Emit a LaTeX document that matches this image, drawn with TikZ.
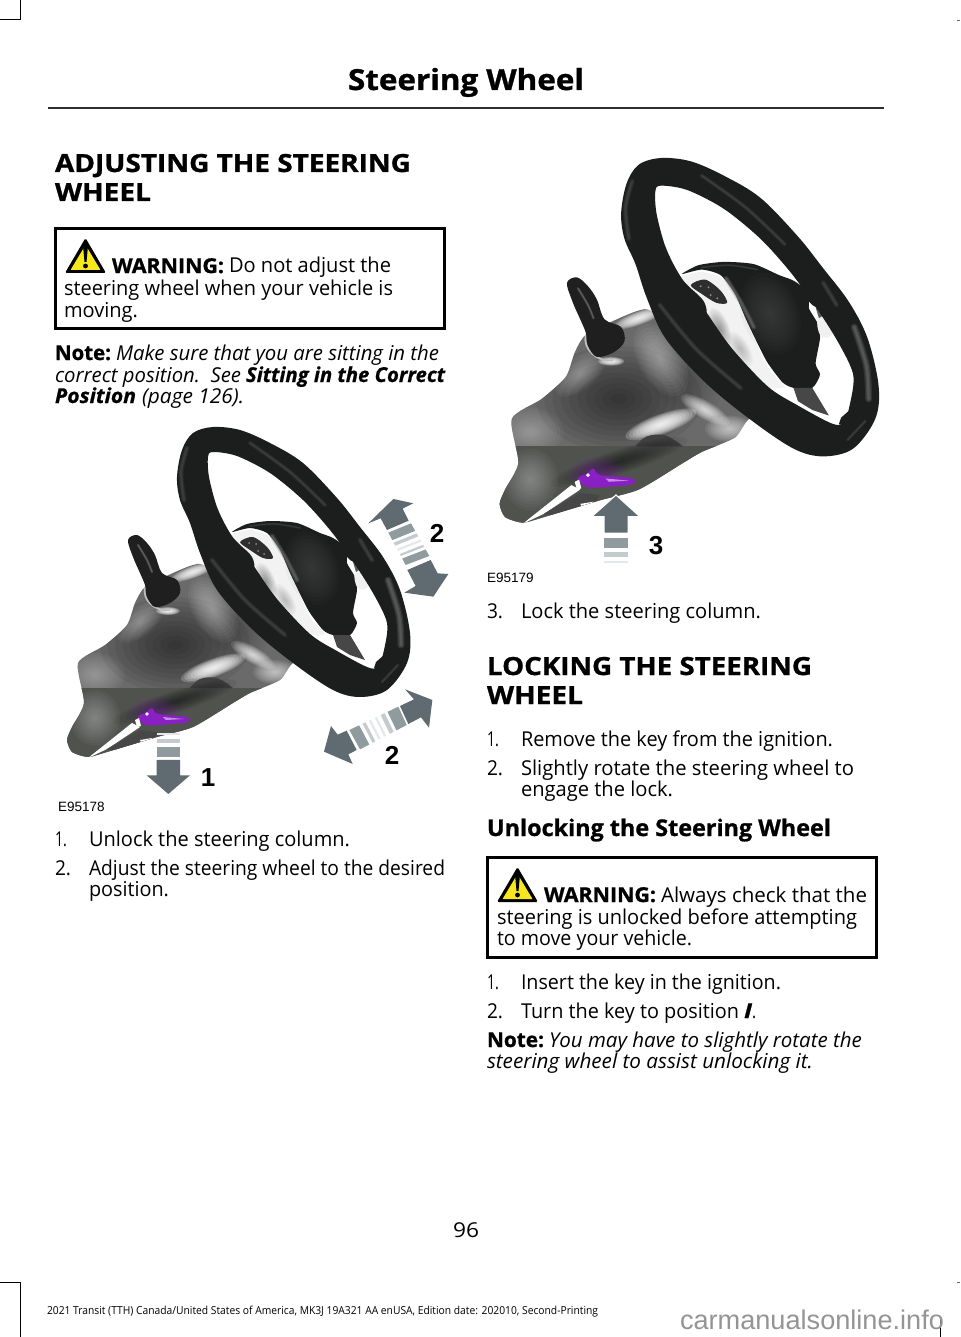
\documentclass[tikz,border=0pt]{standalone}
\usepackage{fontspec}
\usepackage{graphicx}
\usetikzlibrary{calc}
\setmainfont{Open Sans}
\newfontfamily\heavy[BoldFeatures={FakeBold=1.0},BoldItalicFeatures={FakeBold=0.8}]{Open Sans}
\newfontfamily\lib{Liberation Sans}
\definecolor{arrowdark}{HTML}{5F6B70}
\definecolor{arrowmid}{HTML}{8F9B9F}
\definecolor{arrowlight}{HTML}{C3CBCE}
\definecolor{arrowpale}{HTML}{E4E8EA}
\definecolor{rimdark}{HTML}{1C1E1D}
\definecolor{rimlight}{HTML}{4A4D4C}
\definecolor{bodygray}{HTML}{6A6A6A}
\definecolor{shroud}{HTML}{50524E}
\definecolor{lever}{HTML}{8A1FC4}
\definecolor{warnyellow}{HTML}{F8E71C}
\newcounter{tlc}
% fitted line of text: x, y (baseline), width, font+text
\newcommand{\tl}[4]{\stepcounter{tlc}\node[anchor=base west,inner sep=0pt,outer sep=0pt] (t\thetlc) at (#1,#2) {\resizebox{#3pt}{\height}{#4}};}
\newcommand{\bodyf}{\fontsize{20.5}{22}\selectfont}
\newcommand{\headf}{\fontsize{25}{28}\selectfont\heavy\bfseries}
% soft blob: colour, strength, x, y, rx, ry, angle
\newcommand{\blob}[7]{\begin{scope}[shift={(#3,#4)},rotate=#7]
 \pgfmathsetmacro{\bop}{#2*0.12}
 \foreach \k in {.1,.2,...,1.01}{\fill[#1,opacity=\bop] (0,0) ellipse[x radius=\k*#5,y radius=\k*#6];}
 \end{scope}}
\newcommand{\softline}[3]{%
 \draw[#1,opacity=.25,line width=#2,line cap=round,line join=round] plot[smooth] coordinates {#3};
 \draw[#1,opacity=.3,line width=.66*#2,line cap=round,line join=round] plot[smooth] coordinates {#3};
 \draw[#1,opacity=.35,line width=.33*#2,line cap=round,line join=round] plot[smooth] coordinates {#3};}
\newcommand{\illus}{%
 % column body
 \begin{scope}
 \path[clip] plot[smooth cycle,tension=.4] coordinates {(67,740)(72,727)(84,703)(78,663)(105,645)(127,625)(135,603)(145,587)(173,573)(193,565)(205,566)(250,600)(320,655)(293,663)(280,680)(250,693)(233,703)(193,727)(157,737)(107,752)(88,757)(72,752)};
 \fill[bodygray] (60,550) rectangle (330,770);
 \blob{black}{.5}{175}{645}{75}{48}{0}
 \blob{black}{.2}{235}{625}{30}{40}{30}
 \blob{white}{.3}{95}{675}{30}{22}{0}
 \blob{white}{.35}{140}{622}{28}{14}{40}
 \blob{white}{1.7}{213}{668}{34}{9}{20}
 \blob{white}{1}{253}{655}{25}{8}{-30}
 \blob{white}{.7}{275}{672}{22}{12}{0}
 \blob{white}{.4}{213}{610}{20}{36}{30}
 \blob{white}{1.5}{193}{572}{24}{6}{20}
 \blob{white}{1.7}{168}{611}{12}{4}{0}
 \fill[shroud] (60,688) rectangle (330,770);
 \fill[black!75] plot[smooth,tension=.6] coordinates {(190,688)(200,679)(217,678)(233,688)} -- cycle;
 \blob{black}{.5}{175}{702}{65}{11}{18}
 \blob{white}{.3}{95}{718}{25}{28}{0}
 \blob{lever}{.4}{155}{712}{26}{14}{0}
 \fill[white] (88,758) -- (132,723) -- (140,727) -- (107,749) -- cycle;
 \fill[black!72] (107,749) -- (140,730) -- (157,732) -- (153,743) -- (127,752) -- cycle;
 \fill[white] (140,740) -- (152,738) -- (150,743) -- (142,744) -- cycle;
 \end{scope}
 % collar and stalk
 \draw[black!25,line width=1.8pt] (145,587) .. controls (142,600) and (155,612) .. (170,610);
 \fill[black!88] plot[smooth cycle,tension=.55] coordinates {(128,540)(137,535)(147,543)(155,555)(162,573)(177,580)(180,593)(170,603)(155,607)(147,597)(145,585)(140,573)(133,557)};
 \softline{black!50}{2.5pt}{(138,545)(147,560)(152,572)}
 % hub
 \fill[black!5] plot[smooth cycle,tension=.3] coordinates {(232,534)(250,530)(267,535)(280,552)(290,575)(303,602)(312,620)(325,634)(310,634)(277,599)(253,565)(235,540)};
 \blob{black}{.35}{266}{582}{9}{20}{20}
 \blob{black}{.2}{285}{600}{8}{18}{30}
 \fill[black!82] plot[smooth cycle,tension=.5] coordinates {(240,542)(253,537)(267,547)(273,558)(263,558)(250,550)};
 \fill[black!45] (249,543) circle[radius=1] (256,544) circle[radius=1] (258,551) circle[radius=1] (264,554) circle[radius=1];
 \fill[rimdark] plot[smooth cycle,tension=.6] coordinates {(230,537)(240,545)(252,557)(254,570)(245,572)(230,555)};
 \fill[rimdark] plot[smooth cycle,tension=.4] coordinates {(232,532)(247,524)(270,521)(297,523)(320,533)(333,538)(350,550)(348,553)(347,563)(355,577)(357,590)(353,613)(357,623)(350,635)(333,635)(323,630)(310,613)(303,600)(290,573)(280,550)(267,533)(250,528)};
 \blob{black!60}{.4}{312}{568}{26}{38}{20}
 \softline{black!55}{5pt}{(272,536)(285,557)(297,580)}
 \softline{rimlight}{2pt}{(250,526)(275,524)(300,528)}
 \fill[black!72] (333,635) -- (350,635) -- (365,660) -- (350,655) -- (337,647) -- cycle;
 % right spoke
 \fill[rimdark] plot[smooth cycle,tension=.5] coordinates {(345,550)(367,552)(385,575)(393,592)(378,596)(370,587)(365,568)(350,560)};
 \fill[black!6] plot[smooth cycle,tension=.6] coordinates {(355,573)(367,566)(371,580)(365,589)(357,587)};
 \fill[black!65] (353,562) -- (362,568) -- (356,572) -- cycle;
 % rim
 \fill[rimdark,even odd rule] plot[smooth cycle,tension=.55] coordinates {(177,477)(182,450)(193,433)(213,427)(240,430)(270,443)(303,463)(337,498)(360,527)(383,557)(400,590)(410,633)(407,663)(387,690)(360,697)(333,690)(293,663)(253,630)(217,590)(200,553)(190,523)(180,500)}
 plot[smooth cycle,tension=.5] coordinates {(208,457)(213,452)(237,456)(270,473)(303,500)(330,530)(352,560)(373,593)(387,623)(384,650)(378,667)(367,667)(337,651)(310,634)(277,599)(253,565)(230,533)(217,507)(209,477)};
 \fill[rimdark] (376,662) -- (384,655) -- (384,670) -- (374,668) -- cycle;
 \softline{rimlight}{5pt}{(184,500)(181,472)(187,448)}
 \softline{rimlight}{4pt}{(250,443)(290,472)(325,505)}
 \softline{black!55}{7pt}{(388,580)(399,615)(401,645)}
 \softline{rimlight}{5pt}{(360,540)(372,560)}
 \softline{rimlight}{5pt}{(212,560)(245,600)(285,635)}
 \softline{rimlight}{3pt}{(398,665)(382,682)}
 % lever
 \fill[lever] plot[smooth cycle,tension=.5] coordinates {(138,717)(147,712)(152,708)(158,714)(187,717)(188,722)(173,724)(147,725)};
 \fill[white] (147,714) circle[radius=1.8];
 \fill[lever!50!white] (163,717) -- (184,719) -- (166,720) -- cycle;
 \fill[white] (135,720) -- (139,718) -- (141,726) -- (137,727) -- cycle;
}
\newcommand{\stripe}[7]{\fill[#7] ($(#1)!#5!(#2)$) -- ($(#3)!#5!(#4)$) -- ($(#3)!#6!(#4)$) -- ($(#1)!#6!(#2)$) -- cycle;}
\newcommand{\warnicon}[2]{%
 \begin{scope}[shift={(#1,#2)}]
 \fill[black,rounded corners=1.5pt] (20.5,0) -- (41,35) -- (0,35) -- cycle;
 \fill[warnyellow,rounded corners=.5pt] (20.5,7) -- (35.5,32) -- (5.5,32) -- cycle;
 \fill[black] (18,7.5) .. controls (19,6) and (22,6) .. (23,7.5) -- (21.5,24) -- (19.5,24) -- cycle;
 \fill[black] (20.5,28) circle[radius=2.4];
 \end{scope}}
\begin{document}
\begin{tikzpicture}[x=1pt,y=-1pt]
\useasboundingbox (0,0) rectangle (960,1337);
\fill[white] (0,0) rectangle (960,1337);
% crop marks
\draw[black,line width=1pt] (20,0) -- (20,20) -- (0,20);
\draw[black,line width=1pt] (0,1282) -- (20,1282) -- (20,1337);
\draw[black,line width=1pt] (940,1318) -- (940,1337);
\fill[black!60] (957,20) rectangle (960,21);
\fill[black!60] (957,1282) rectangle (960,1283);
% header
\tl{348}{90}{236}{\fontsize{29}{32}\selectfont\heavy\bfseries Steering Wheel}
\fill[black!82] (48,106.6) rectangle (884,108.6);
% left column
\tl{55}{172}{356}{\headf ADJUSTING THE STEERING}
\tl{55}{201}{96}{\headf WHEEL}
\draw[black,line width=3pt] (55.5,228.5) rectangle (444.5,328.5);
\warnicon{65}{238}
\tl{112}{273}{112}{\bodyf\heavy\bfseries WARNING:}
\tl{229}{273}{162}{\bodyf Do not adjust the}
\tl{64}{295}{329}{\bodyf steering wheel when your vehicle is}
\tl{64}{317}{74}{\bodyf moving.}
\tl{55}{360}{56}{\bodyf\heavy\bfseries Note:}
\tl{116}{360}{323}{\bodyf\itshape Make sure that you are sitting in the}
\tl{55}{382}{186}{\bodyf\itshape correct position.\ \ See}
\tl{246}{382}{199}{\bodyf\heavy\bfseries\itshape Sitting in the Correct}
\tl{55}{403}{81}{\bodyf\heavy\bfseries\itshape Position}
\tl{142}{403}{102}{\bodyf\itshape (page 126).}
% left illustration
\illus
\begin{scope}[x=.33333pt,y=-.33333pt,shift={(120,1260)}]
 \fill[arrowpale] (350,938) rectangle (420,946);
 \fill[arrowlight] (350,958) rectangle (420,970);
 \fill[arrowmid] (350,980) rectangle (420,1010);
 \fill[arrowdark] (350,1020) -- (420,1020) -- (420,1066) -- (450,1066) -- (385,1122) -- (320,1066) -- (350,1066) -- cycle;
 % upper double arrow
 \fill[arrowdark] (1060,237) -- (1120,250) -- (1088,266) -- (1106,302) -- (1041,330) -- (1022,295) -- (985,310) -- cycle;
 \coordinate (ua) at (1045,338); \coordinate (ub) at (1097,435);
 \coordinate (uc) at (1113,310); \coordinate (ud) at (1168,408);
 \stripe{ua}{ub}{uc}{ud}{0}{.23}{arrowmid}
 \stripe{ua}{ub}{uc}{ud}{.31}{.4}{arrowlight}
 \stripe{ua}{ub}{uc}{ud}{.5}{.56}{arrowpale}
 \stripe{ua}{ub}{uc}{ud}{.66}{.72}{arrowlight}
 \stripe{ua}{ub}{uc}{ud}{.8}{1}{arrowmid}
 \fill[arrowdark] (1102,450) -- (1172,420) -- (1193,460) -- (1225,462) -- (1180,530) -- (1093,518) -- (1127,498) -- cycle;
 % lower double arrow
 \fill[arrowdark] (852,995) -- (873,918) -- (893,944) -- (920,932) -- (950,990) -- (925,1003) -- (938,1032) -- cycle;
 \coordinate (la) at (928,930); \coordinate (lb) at (1075,860);
 \coordinate (lc) at (960,988); \coordinate (ld) at (1100,915);
 \stripe{la}{lb}{lc}{ld}{0}{.2}{arrowmid}
 \stripe{la}{lb}{lc}{ld}{.27}{.33}{arrowlight}
 \stripe{la}{lb}{lc}{ld}{.4}{.44}{arrowpale}
 \stripe{la}{lb}{lc}{ld}{.52}{.56}{arrowpale}
 \stripe{la}{lb}{lc}{ld}{.64}{.72}{arrowlight}
 \stripe{la}{lb}{lc}{ld}{.78}{1}{arrowmid}
 \fill[arrowdark] (1080,858) -- (1122,838) -- (1095,808) -- (1177,840) -- (1167,923) -- (1143,892) -- (1105,912) -- cycle;
\end{scope}
\node[inner sep=0pt] (n1) at (208,778) {\lib\fontsize{26}{28}\selectfont\bfseries 1};
\node[inner sep=0pt] (n2a) at (437,533) {\lib\fontsize{26}{28}\selectfont\bfseries 2};
\node[inner sep=0pt] (n2b) at (392,755) {\lib\fontsize{26}{28}\selectfont\bfseries 2};
\node[anchor=base west,inner sep=0pt] (e1) at (58,811) {\lib\fontsize{13.5}{15}\selectfont E95178};
\tl{55}{846}{12}{\bodyf 1.}
\tl{89}{846}{261}{\bodyf Unlock the steering column.}
\tl{55}{875}{16}{\bodyf 2.}
\tl{89}{875}{356}{\bodyf Adjust the steering wheel to the desired}
\tl{89}{896}{80}{\bodyf position.}
% right illustration
\begin{scope}[x=1.105pt,y=-1.105pt,shift={(385.1,-284)}]
 \illus
\end{scope}
\begin{scope}[x=.33333pt,y=-.33333pt,shift={(1440,435)}]
 \fill[arrowdark,draw=white,line width=1.2pt] (408,1050) -- (480,1115) -- (445,1115) -- (445,1165) -- (372,1165) -- (372,1115) -- (335,1115) -- cycle;
 \fill[arrowmid] (372,1180) rectangle (445,1210);
 \fill[arrowlight] (372,1222) rectangle (445,1235);
 \fill[arrowpale] (372,1247) rectangle (445,1255);
\end{scope}
\node[inner sep=0pt] (n3) at (656,546) {\lib\fontsize{26}{28}\selectfont\bfseries 3};
\node[anchor=base west,inner sep=0pt] (e2) at (487,582) {\lib\fontsize{13.5}{15}\selectfont E95179};
% right column
\tl{487}{618}{16}{\bodyf 3.}
\tl{521}{618}{240}{\bodyf Lock the steering column.}
\tl{487}{675}{325}{\headf LOCKING THE STEERING}
\tl{487}{704}{96}{\headf WHEEL}
\tl{487}{746}{12}{\bodyf 1.}
\tl{521}{746}{312}{\bodyf Remove the key from the ignition.}
\tl{487}{775}{16}{\bodyf 2.}
\tl{521}{775}{333}{\bodyf Slightly rotate the steering wheel to}
\tl{521}{796}{152}{\bodyf engage the lock.}
\tl{487}{836}{344}{\fontsize{23}{26}\selectfont\heavy\bfseries Unlocking the Steering Wheel}
\draw[black,line width=3pt] (487.5,857.5) rectangle (876.5,957.5);
\warnicon{497}{867}
\tl{544}{902}{112}{\bodyf\heavy\bfseries WARNING:}
\tl{661}{902}{206}{\bodyf Always check that the}
\tl{497}{924}{360}{\bodyf steering is unlocked before attempting}
\tl{497}{945}{195}{\bodyf to move your vehicle.}
\tl{487}{989}{12}{\bodyf 1.}
\tl{521}{989}{260}{\bodyf Insert the key in the ignition.}
\tl{487}{1018}{16}{\bodyf 2.}
\tl{521}{1018}{218}{\bodyf Turn the key to position}
\tl{744}{1018}{8}{\bodyf\heavy\bfseries\itshape I}
\tl{752}{1018}{4}{\bodyf .}
\tl{487}{1047}{57}{\bodyf\heavy\bfseries Note:}
\tl{549}{1047}{313}{\bodyf\itshape You may have to slightly rotate the}
\tl{487}{1068}{326}{\bodyf\itshape steering wheel to assist unlocking it.}
% footer
\tl{453}{1237}{26}{\bodyf 96}
\tl{47}{1314}{551}{\fontsize{11}{12}\selectfont 2021 Transit (TTH) Canada/United States of America, MK3J 19A321 AA enUSA, Edition date: 202010, Second-Printing}
\tl{680}{1329}{264}{\lib\fontsize{27}{29}\selectfont\color{black!42} carmanualsonline.info}
\end{tikzpicture}
\end{document}
